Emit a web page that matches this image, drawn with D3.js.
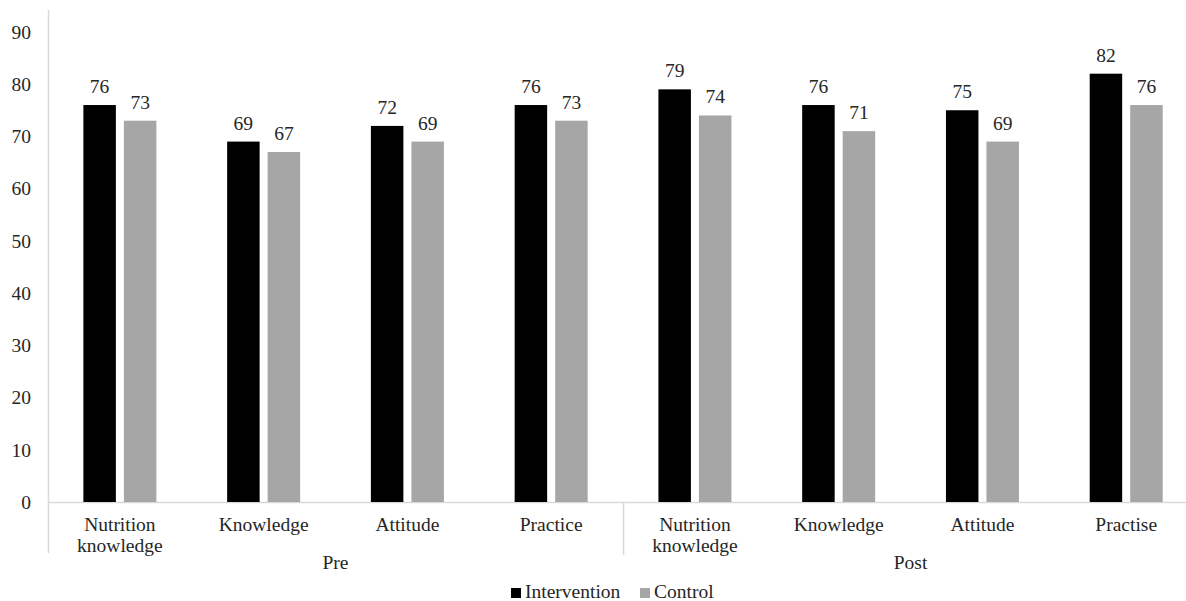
<!DOCTYPE html>
<html>
<head>
<meta charset="utf-8">
<script src="https://cdn.jsdelivr.net/npm/d3@7"></script>
<style>
  html, body { margin: 0; padding: 0; background: #ffffff; }
  svg { display: block; }
  text { font-family: "Liberation Serif", "Times New Roman", serif; fill: #262626; }
</style>
</head>
<body>
<svg id="chart" width="1186" height="601"></svg>
<script>
// ---- data ----
const groups = ["Pre", "Post"];
const categories = [
  ["Nutrition", "knowledge"], ["Knowledge"], ["Attitude"], ["Practice"],
  ["Nutrition", "knowledge"], ["Knowledge"], ["Attitude"], ["Practise"]
];
const categoryGroup = [0, 0, 0, 0, 1, 1, 1, 1];
const seriesNames = ["Intervention", "Control"];
const intervention = [76, 69, 72, 76, 79, 76, 75, 82];
const control = [73, 67, 69, 73, 74, 71, 69, 76];
const yTicks = [0, 10, 20, 30, 40, 50, 60, 70, 80, 90];

// ---- layout ----
const svg = d3.select("#chart");
const colors = { Intervention: "#000000", Control: "#a6a6a6" };
const axisColor = "#d9d9d9";
const fontSize = 19.5;

const plotLeft = 48, band = 143.76;
const plotTop = 10, baseY = 502;
const ids = categories.map((c, i) => i);

const x0 = d3.scaleBand().domain(ids).range([plotLeft, plotLeft + band * ids.length]).padding(0);
const inner = 73;
const x1 = d3.scaleBand().domain(seriesNames)
  .range([x0.bandwidth() / 2 - inner / 2, x0.bandwidth() / 2 + inner / 2])
  .paddingInner(0.198).paddingOuter(0);
const y = d3.scaleLinear().domain([0, 90]).range([baseY, 31.9]);

// y tick labels
const yAxis = d3.axisLeft(y).tickValues(yTicks).tickSize(0).tickPadding(0);
const gy = svg.append("g").attr("transform", `translate(31,0)`).call(yAxis);
gy.select(".domain").remove();
gy.selectAll("text")
  .attr("font-family", "Liberation Serif, Times New Roman, serif")
  .attr("font-size", fontSize)
  .attr("fill", "#262626");

// vertical axis line
svg.append("line")
  .attr("x1", plotLeft + 0.5).attr("x2", plotLeft + 0.5)
  .attr("y1", plotTop).attr("y2", 553)
  .attr("stroke", axisColor).attr("stroke-width", 1.5);

// baseline
svg.append("line")
  .attr("x1", plotLeft).attr("x2", 1186)
  .attr("y1", baseY + 0.5).attr("y2", baseY + 0.5)
  .attr("stroke", axisColor).attr("stroke-width", 1.5);

// group divider(s)
[4].forEach(i => {
  svg.append("line")
    .attr("x1", x0(i) + 0.5).attr("x2", x0(i) + 0.5)
    .attr("y1", baseY).attr("y2", 555)
    .attr("stroke", axisColor).attr("stroke-width", 1.5);
});

// bars
const rows = ids.map(i => ({ id: i, values: [
  { key: "Intervention", value: intervention[i] },
  { key: "Control", value: control[i] }
]}));

const cat = svg.append("g").selectAll("g").data(rows).join("g")
  .attr("transform", d => `translate(${x0(d.id)},0)`);

cat.selectAll("rect").data(d => d.values).join("rect")
  .attr("x", d => x1(d.key))
  .attr("width", x1.bandwidth())
  .attr("y", d => y(d.value))
  .attr("height", d => y(0) - y(d.value))
  .attr("fill", d => colors[d.key]);

cat.selectAll("text.val").data(d => d.values).join("text")
  .attr("class", "val")
  .attr("x", d => x1(d.key) + x1.bandwidth() / 2)
  .attr("y", d => y(d.value) - 12)
  .attr("text-anchor", "middle")
  .attr("font-size", fontSize)
  .text(d => d.value);

// category labels
ids.forEach(i => {
  const t = svg.append("text")
    .attr("x", x0(i) + x0.bandwidth() / 2)
    .attr("y", 531)
    .attr("text-anchor", "middle")
    .attr("font-size", fontSize);
  categories[i].forEach((line, k) => {
    t.append("tspan")
      .attr("x", x0(i) + x0.bandwidth() / 2)
      .attr("dy", k === 0 ? 0 : 21)
      .text(line);
  });
});

// group labels
groups.forEach((g, gi) => {
  const idx = ids.filter(i => categoryGroup[i] === gi);
  const cx = (x0(idx[0]) + x0(idx[idx.length - 1]) + x0.bandwidth()) / 2;
  svg.append("text")
    .attr("x", cx).attr("y", 569)
    .attr("text-anchor", "middle")
    .attr("font-size", fontSize)
    .text(g);
});

// legend
const legendItems = [
  { key: "Intervention", x: 511 },
  { key: "Control", x: 640 }
];
const lg = svg.append("g");
legendItems.forEach(it => {
  lg.append("rect").attr("x", it.x).attr("y", 588).attr("width", 10).attr("height", 10)
    .attr("fill", colors[it.key]);
  lg.append("text").attr("x", it.x + 14).attr("y", 598)
    .attr("font-size", fontSize).text(it.key);
});
</script>
</body>
</html>
